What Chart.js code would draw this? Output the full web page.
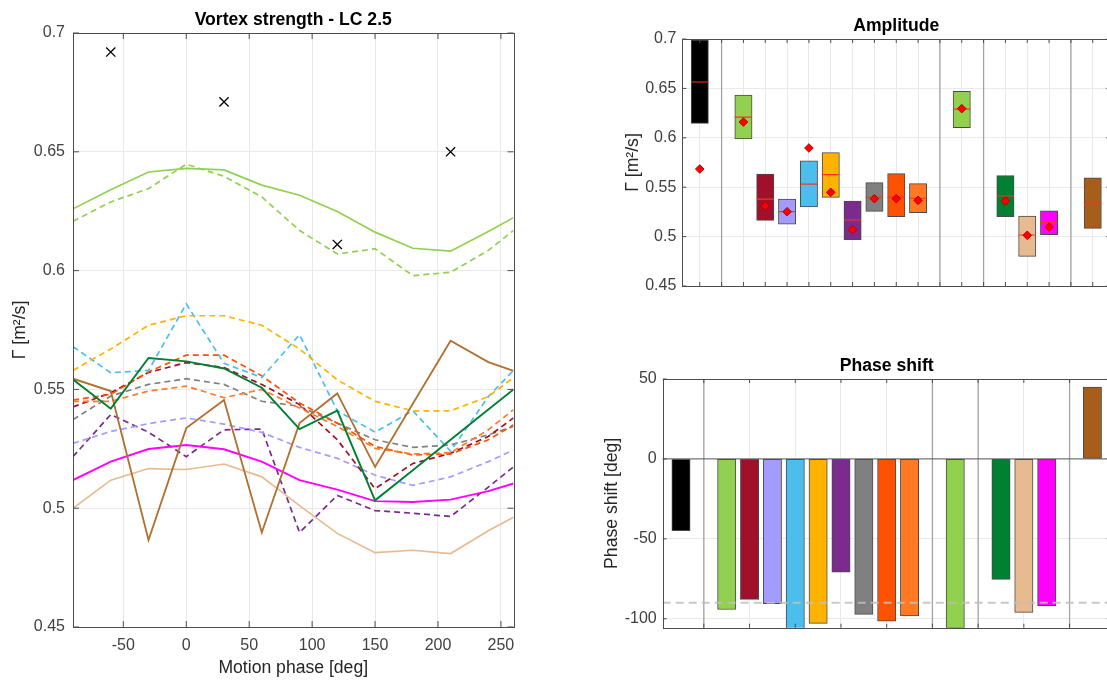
<html>
	<head>
		<title>Vortex strength - LC 2.5</title>
<style type="text/css">
body {
	margin: 0;
	width: 1107px;
	height: 680px;
	overflow: hidden;
	background: #fff;
	position: relative;
}
canvas {
	position: absolute;
}
</style>
<script src="https://cdn.jsdelivr.net/npm/chart.js@4"></script>
<script>

// ---- vortex strength over the motion cycle ----
const phase = [-90, -60, -30, 0, 30, 60, 90, 120, 150, 180, 210, 240, 260];

const greenSolid  = [0.626, 0.634, 0.6415, 0.643, 0.6424, 0.636, 0.6317, 0.6249, 0.6162, 0.6094, 0.6082, 0.6165, 0.6223];
const greenDashed = [0.6208, 0.6289, 0.6345, 0.6448, 0.6397, 0.631, 0.6169, 0.607, 0.6092, 0.5979, 0.5993, 0.6085, 0.6169];
const yellowDashed = [0.558, 0.567, 0.577, 0.581, 0.581, 0.577, 0.567, 0.554, 0.545, 0.541, 0.541, 0.547, 0.555];
const cyanDashed  = [0.568, 0.557, 0.558, 0.586, 0.561, 0.555, 0.573, 0.541, 0.532, 0.541, 0.524, 0.547, 0.558];
const darkGreen   = [0.5542, 0.5419, 0.5632, 0.5618, 0.5588, 0.5507, 0.5333, 0.5411, 0.5033, 0.516, 0.5288, 0.5415, 0.55];
const brown       = [0.5545, 0.5493, 0.4866, 0.5337, 0.5455, 0.4898, 0.5358, 0.5483, 0.5174, 0.544, 0.5705, 0.5615, 0.5578];
const magenta     = [0.5118, 0.5196, 0.5249, 0.5266, 0.5248, 0.5196, 0.5118, 0.5078, 0.503, 0.5026, 0.5036, 0.5072, 0.5104];
const tan         = [0.5, 0.5118, 0.5167, 0.5163, 0.5186, 0.5132, 0.5011, 0.4894, 0.4813, 0.4823, 0.4809, 0.4905, 0.4962];
const lavender    = [0.5273, 0.5323, 0.5356, 0.538, 0.5354, 0.5319, 0.5256, 0.521, 0.5139, 0.5096, 0.5132, 0.5196, 0.5245];
const purple      = [0.5217, 0.5394, 0.532, 0.5217, 0.533, 0.5333, 0.4898, 0.5054, 0.499, 0.4979, 0.4965, 0.5089, 0.5174];
const gray        = [0.5373, 0.5472, 0.5521, 0.5545, 0.5521, 0.545, 0.5429, 0.5358, 0.5288, 0.5256, 0.5266, 0.5309, 0.5344];
const crimson     = [0.5426, 0.5486, 0.5571, 0.5613, 0.5592, 0.5521, 0.5436, 0.5288, 0.5082, 0.5188, 0.5231, 0.5302, 0.538];
const orangeRed   = [0.5455, 0.5479, 0.5574, 0.5644, 0.5644, 0.5557, 0.5443, 0.5358, 0.526, 0.5224, 0.5228, 0.5288, 0.5351];
const orange      = [0.545, 0.545, 0.5493, 0.5514, 0.5465, 0.55, 0.5422, 0.5344, 0.5252, 0.5228, 0.5234, 0.533, 0.5415];

// measured peaks (black crosses)
const peakPhase = [-60, 30, 120, 210];
const peakValue = [0.692, 0.671, 0.611, 0.650];

const phaseTicks = [-50, 0, 50, 100, 150, 200, 250];
const gammaTicks = [0.45, 0.5, 0.55, 0.6, 0.65, 0.7];

// ---- amplitude / phase shift per case ----
const slots   = [1, 3, 4, 5, 6, 7, 8, 9, 10, 11, 13, 15, 16, 17, 19];
const ampLow  = [0.6146, 0.5988, 0.5165, 0.5127, 0.530, 0.5397, 0.4969, 0.5256, 0.5202, 0.5242, 0.6103, 0.5202, 0.480, 0.502, 0.5084];
const ampHigh = [0.699, 0.6433, 0.5634, 0.538, 0.5768, 0.585, 0.536, 0.5546, 0.5637, 0.5536, 0.647, 0.5617, 0.5208, 0.5262, 0.5595];
const ampMid  = [0.6565, 0.621, 0.538, 0.5252, 0.5532, 0.5627, 0.5168, 0.5398, 0.540, 0.5388, 0.6291, 0.5411, 0.5016, 0.5141, 0.5337];
const ampMean = [0.5684, 0.616, 0.531, 0.5252, 0.5897, 0.5448, 0.507, 0.5384, 0.5384, 0.5367, 0.6295, 0.536, 0.5013, 0.5097, null];
const shift   = [-44.9, -94.2, -87.9, -90.6, -107, -102.9, -70.8, -97.3, -101.5, -98.3, -106, -75.4, -96, -92, 44.9];

const groupBreaks = [2, 12, 14, 18];
const slotTicks   = [1, 2, 3, 4, 5, 6, 7, 8, 9, 10, 11, 12, 13, 14, 15, 16, 17, 18, 19];
const evenTicks   = [2, 4, 6, 8, 10, 12, 14, 16, 18];
const shiftTicks  = [-100, -50, 0, 50];
const shiftRefs   = [0, -90];

const slotColors = ['#000000', '#92d050', '#a0102a', '#a49bff', '#4bbeec', '#ffb300', '#7b2a8e',
	'#808080', '#ff5200', '#ff7a22', '#92d050', '#008033', '#e8ba90', '#ff00ff', '#a65e1a'];

const FONT = '"Liberation Sans", Arial, sans-serif';
const AXIS = '#4d4d4d';
const GRID = '#e9e9e9';
const TEXT = '#404040';

function fixedTicks(values)
{
	return (scale) => { scale.ticks = values.map(v => ({ value: v })); };
}

function fixedSize(prop, px)
{
	return (scale) => { scale[prop] = px; };
}

function xy(xs, ys)
{
	return xs.map((x, i) => ({ x: x, y: ys[i] })).filter(p => p.y !== null);
}

// boxed axes with inward ticks, separators and reference lines
const matlabAxes = {
	id: 'matlabAxes',
	beforeDatasetsDraw(chart, args, opts) {
		const { ctx, chartArea: a, scales: { x } } = chart;
		if (!opts.breaks) return;
		ctx.save();
		ctx.strokeStyle = '#a3a3a3';
		ctx.lineWidth = 1.3;
		opts.breaks.forEach(b => {
			const px = x.getPixelForValue(b);
			ctx.beginPath();
			ctx.moveTo(px, a.top);
			ctx.lineTo(px, a.bottom);
			ctx.stroke();
		});
		ctx.restore();
	},
	afterDatasetsDraw(chart, args, opts) {
		const { ctx, chartArea: a, scales: { x, y } } = chart;
		ctx.save();
		(opts.refs || []).forEach(r => {
			const py = y.getPixelForValue(r.value);
			ctx.strokeStyle = r.color;
			ctx.lineWidth = r.width;
			ctx.setLineDash(r.dash);
			ctx.beginPath();
			ctx.moveTo(a.left, py);
			ctx.lineTo(a.right, py);
			ctx.stroke();
		});
		ctx.setLineDash([]);
		ctx.strokeStyle = AXIS;
		ctx.lineWidth = 1;
		ctx.strokeRect(Math.round(a.left) + 0.5, Math.round(a.top) + 0.5,
			Math.round(a.right - a.left), Math.round(a.bottom - a.top));
		const len = opts.tick || 5;
		ctx.beginPath();
		x.ticks.forEach(t => {
			const px = x.getPixelForValue(t.value);
			ctx.moveTo(px, a.bottom); ctx.lineTo(px, a.bottom - len);
			ctx.moveTo(px, a.top); ctx.lineTo(px, a.top + len);
		});
		y.ticks.forEach(t => {
			const py = y.getPixelForValue(t.value);
			ctx.moveTo(a.left, py); ctx.lineTo(a.left + len, py);
			ctx.moveTo(a.right, py); ctx.lineTo(a.right - len, py);
		});
		ctx.stroke();
		ctx.restore();
	}
};

function titleOpts(text, top, bottom)
{
	return {
		display: true, text: text, fullSize: false, color: '#000',
		font: { family: FONT, size: 17.6, weight: 'bold', lineHeight: 1.2 },
		padding: { top: top, bottom: bottom }
	};
}

function axisTitle(text, pad)
{
	return {
		display: true, text: text, color: '#262626',
		font: { family: FONT, size: 17.6, lineHeight: 1.2 },
		padding: pad
	};
}

const tickFont = { family: FONT, size: 16 };
const gammaLabel = v => String(+v.toFixed(2));

function lineSet(data, color, dashed, width)
{
	return {
		data: xy(phase, data),
		borderColor: color,
		borderWidth: width || 1.7,
		borderDash: dashed ? [6, 4] : [],
		pointRadius: 0,
		tension: 0,
		fill: false
	};
}

function createVortexChart()
{
	// first dataset is drawn on top
	new Chart(document.getElementById('vortex'), {
		type: 'line',
		data: {
			datasets: [
				{
					type: 'scatter', data: xy(peakPhase, peakValue),
					pointStyle: 'crossRot', pointRadius: 6.5, pointBorderColor: '#000', pointBorderWidth: 1.3
				},
				lineSet(darkGreen, '#008033', false, 1.9),
				lineSet(brown, '#b0702f', false, 1.8),
				lineSet(magenta, '#ff00ff', false, 1.9),
				lineSet(tan, '#e8ba90', false),
				lineSet(greenSolid, '#92d050', false),
				lineSet(greenDashed, '#92d050', true),
				lineSet(yellowDashed, '#ffb300', true),
				lineSet(cyanDashed, '#4bbeec', true),
				lineSet(orange, '#ff7a22', true),
				lineSet(orangeRed, '#ff5200', true),
				lineSet(crimson, '#a0102a', true),
				lineSet(gray, '#808080', true),
				lineSet(lavender, '#a49bff', true),
				lineSet(purple, '#7b2a8e', true)
			]
		},
		options: {
			responsive: false, animation: false, devicePixelRatio: 1,
			layout: { padding: { left: 0, right: 26.5, top: 0, bottom: 0 } },
			plugins: {
				legend: { display: false }, tooltip: { enabled: false },
				title: titleOpts('Vortex strength - LC 2.5', 9.4, 2.5),
				matlabAxes: { tick: 6 }
			},
			scales: {
				x: {
					type: 'linear', min: -90, max: 260,
					afterBuildTicks: fixedTicks(phaseTicks), afterFit: fixedSize('height', 53),
					grid: { color: GRID, drawTicks: false }, border: { display: false },
					ticks: { color: TEXT, font: tickFont, padding: 9 },
					title: axisTitle('Motion phase [deg]', { top: 0, bottom: 1.4 })
				},
				y: {
					min: 0.45, max: 0.7,
					afterBuildTicks: fixedTicks(gammaTicks), afterFit: fixedSize('width', 73),
					grid: { color: GRID, drawTicks: false }, border: { display: false },
					ticks: { color: TEXT, font: tickFont, padding: 8, callback: gammaLabel },
					title: axisTitle('Γ [m²/s]', { top: 9.4, bottom: 0 })
				}
			}
		},
		plugins: [matlabAxes]
	});
}

function createAmplitudeChart()
{
	const boxes = slots.map((s, i) => ({ x: s, y: [ampLow[i], ampHigh[i]] }));
	new Chart(document.getElementById('amp'), {
		type: 'bar',
		data: {
			datasets: [
				{
					type: 'scatter', data: xy(slots, ampMean), order: 0,
					pointStyle: 'rectRot', pointRadius: 4.3,
					pointBackgroundColor: '#ff0000', pointBorderColor: '#b80000', pointBorderWidth: 1
				},
				{
					type: 'scatter', data: xy(slots, ampMid), order: 1,
					pointStyle: 'line', pointRadius: 8.6,
					pointBorderColor: '#ff3020', pointBorderWidth: 1.2
				},
				{
					type: 'bar', data: boxes, order: 2,
					backgroundColor: slotColors, borderColor: '#4a4a4a', borderWidth: 1,
					borderSkipped: false, barThickness: 17.3
				}
			]
		},
		options: {
			responsive: false, animation: false, devicePixelRatio: 1,
			layout: { padding: { left: 0, right: 9, top: 0, bottom: 0 } },
			plugins: {
				legend: { display: false }, tooltip: { enabled: false },
				title: titleOpts('Amplitude', 15.1, 2.8),
				matlabAxes: { breaks: groupBreaks, tick: 4 }
			},
			scales: {
				x: {
					type: 'linear', min: 0.2, max: 19.8, offset: false,
					afterBuildTicks: fixedTicks(slotTicks), afterFit: fixedSize('height', 44),
					grid: { color: GRID, drawTicks: false, offset: false }, border: { display: false },
					ticks: { display: false }
				},
				y: {
					type: 'linear', min: 0.45, max: 0.7,
					afterBuildTicks: fixedTicks(gammaTicks), afterFit: fixedSize('width', 122.3),
					grid: { color: GRID, drawTicks: false }, border: { display: false },
					ticks: { color: TEXT, font: tickFont, padding: 6, callback: gammaLabel },
					title: axisTitle('Γ [m²/s]', { top: 62.4, bottom: 0 })
				}
			}
		},
		plugins: [matlabAxes]
	});
}

function createShiftChart()
{
	new Chart(document.getElementById('shift'), {
		type: 'bar',
		data: {
			datasets: [{
				data: xy(slots, shift),
				backgroundColor: slotColors, borderColor: '#4a4a4a', borderWidth: 1,
				borderSkipped: false, barThickness: 18.3
			}]
		},
		options: {
			responsive: false, animation: false, devicePixelRatio: 1,
			layout: { padding: { left: 0, right: 9.3, top: 0, bottom: 0 } },
			plugins: {
				legend: { display: false }, tooltip: { enabled: false },
				title: titleOpts('Phase shift', 25.1, 2.8),
				matlabAxes: {
					breaks: groupBreaks, tick: 4,
					refs: [
						{ value: shiftRefs[0], color: '#5a5a5a', width: 1, dash: [] },
						{ value: shiftRefs[1], color: 'rgba(190,190,190,0.85)', width: 2, dash: [8, 5] }
					]
				}
			},
			scales: {
				x: {
					type: 'linear', min: 0.2, max: 19.8, offset: false,
					afterBuildTicks: fixedTicks(evenTicks), afterFit: fixedSize('height', 52.3),
					grid: { color: GRID, drawTicks: false, offset: false }, border: { display: false },
					ticks: { display: false }
				},
				y: {
					type: 'linear', min: -105.6, max: 50,
					afterBuildTicks: fixedTicks(shiftTicks), afterFit: fixedSize('width', 102.7),
					grid: { color: GRID, drawTicks: false }, border: { display: false },
					ticks: { color: TEXT, font: tickFont, padding: 6 },
					title: axisTitle('Phase shift [deg]', { top: 41.1, bottom: 0 })
				}
			}
		},
		plugins: [matlabAxes]
	});
}

function load()
{
	createVortexChart();
	createAmplitudeChart();
	createShiftChart();
}
</script>

</head>
<body onload='load();'>
<canvas id="vortex" width="540" height="680" style="left:0;top:0"></canvas>
<canvas id="amp" width="560" height="330" style="left:560px;top:0"></canvas>
<canvas id="shift" width="560" height="350" style="left:560px;top:330px"></canvas>
</body>
</html>
